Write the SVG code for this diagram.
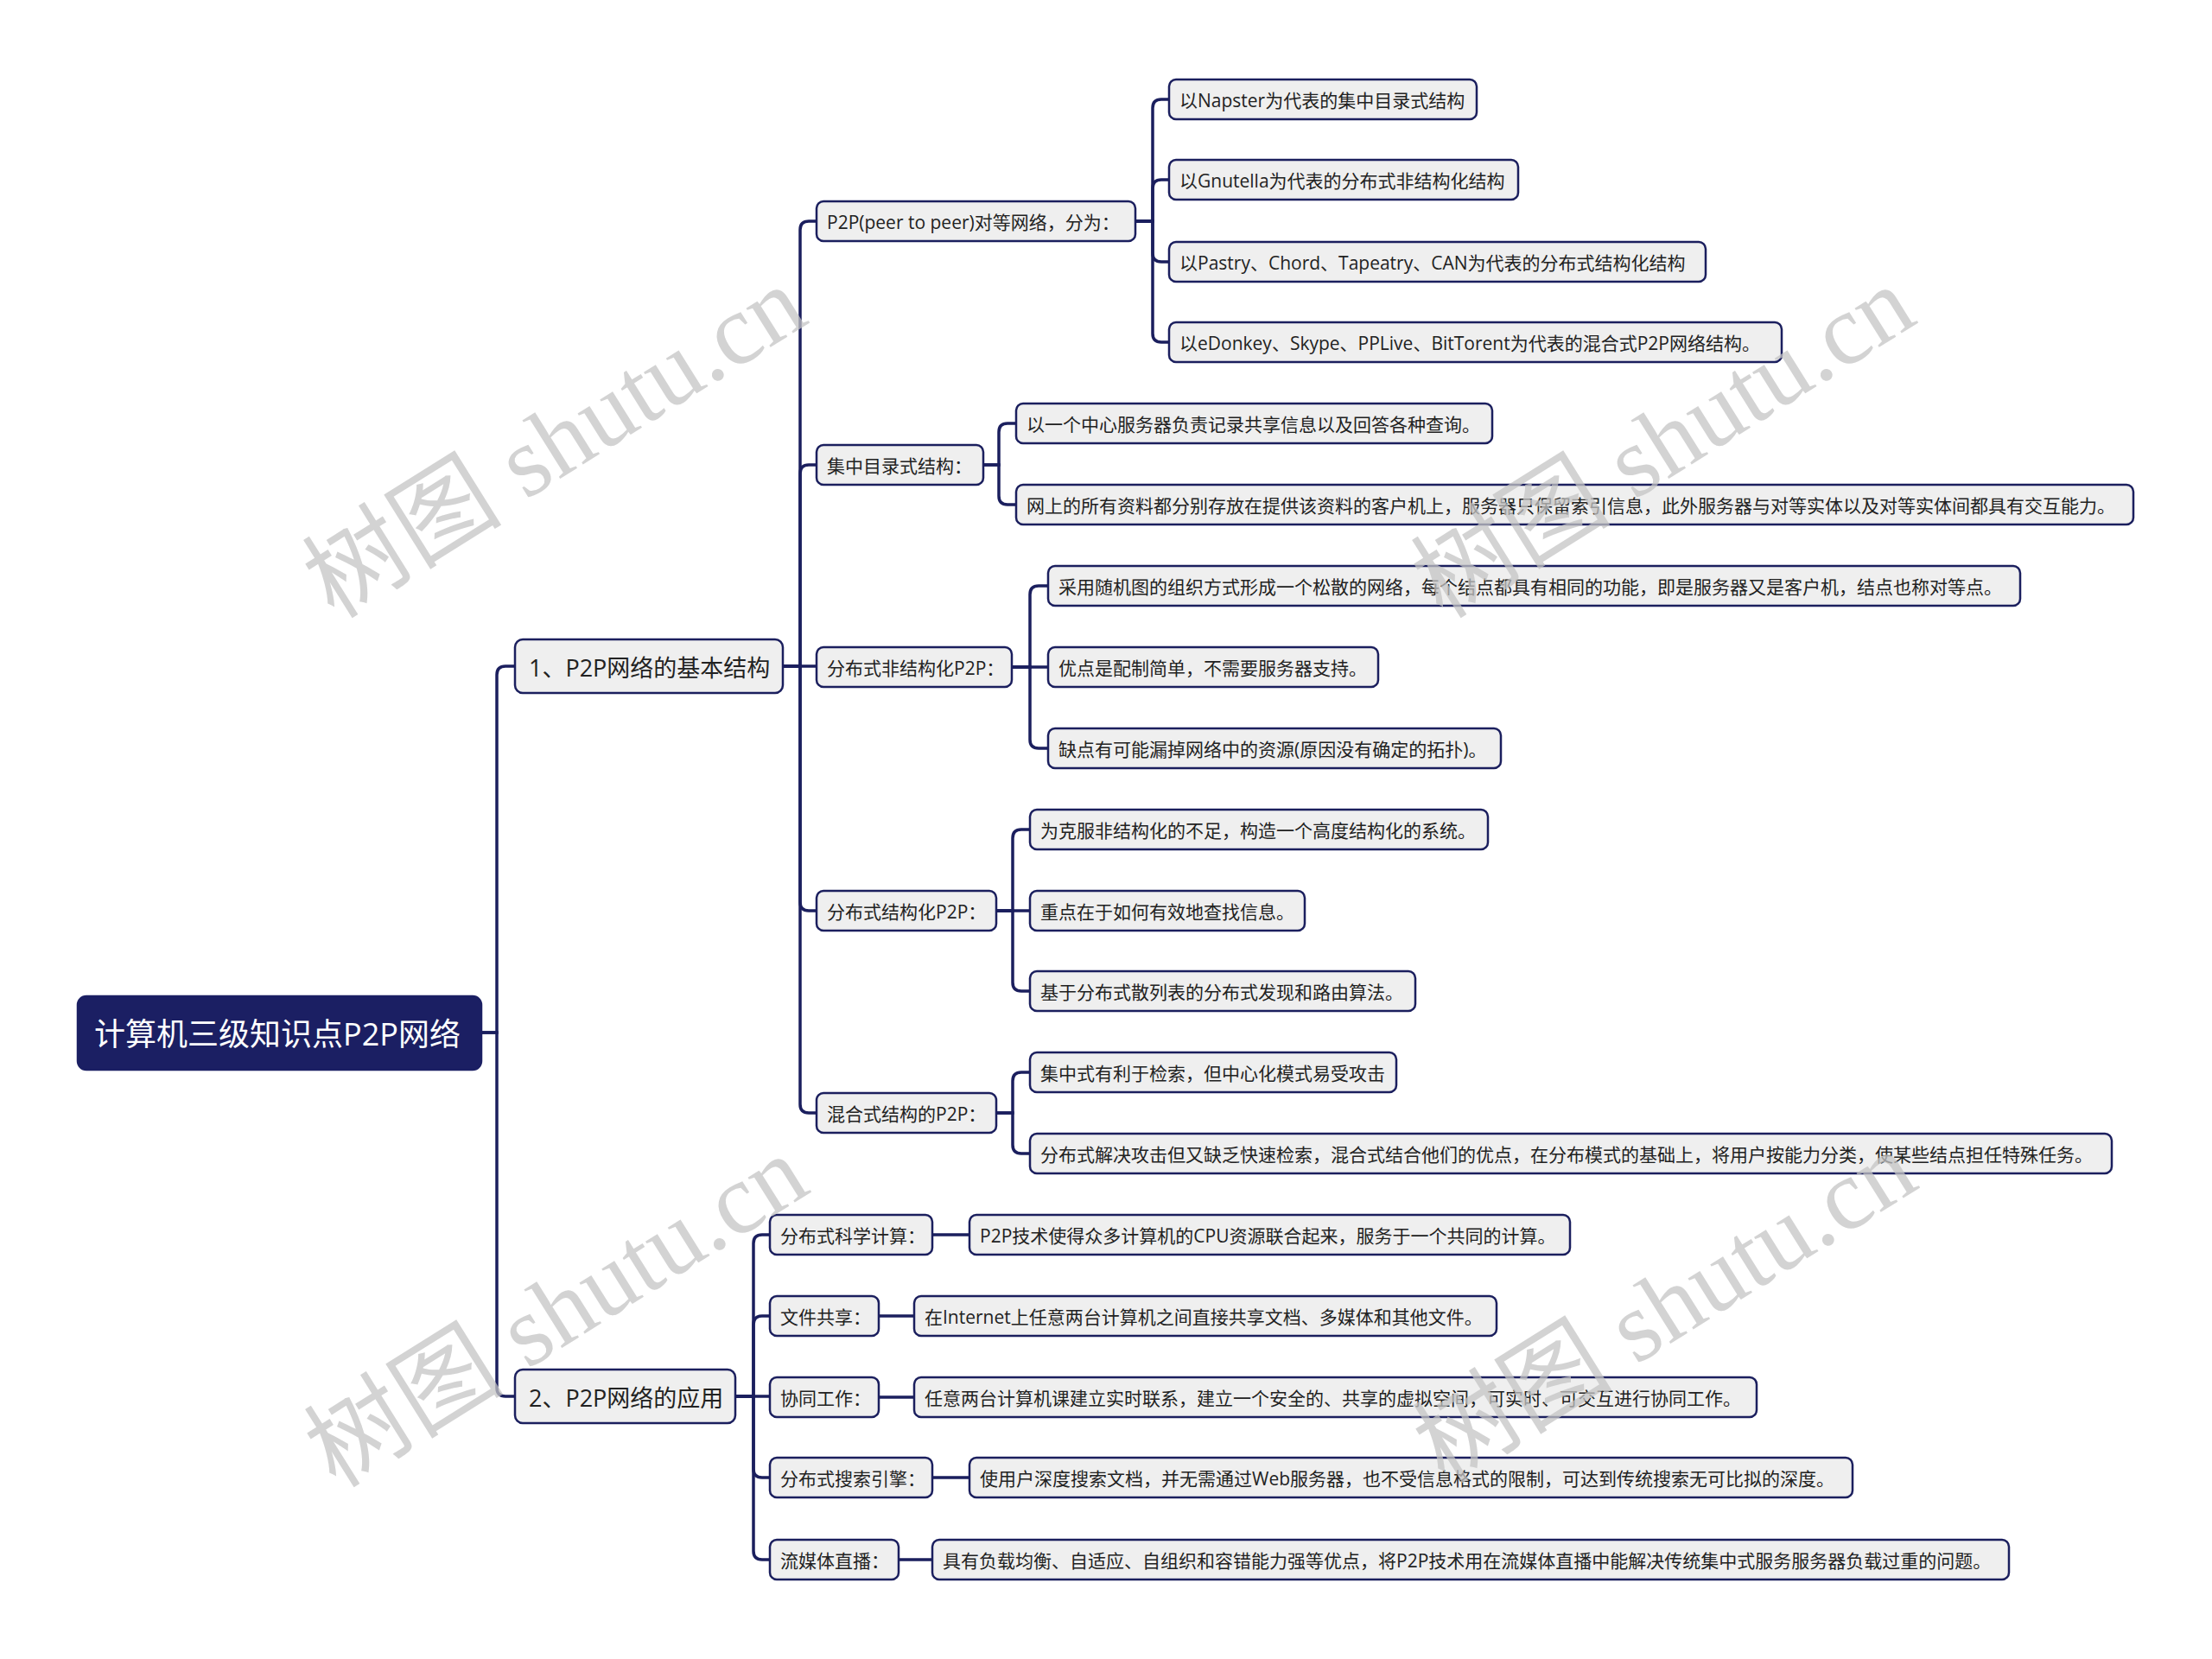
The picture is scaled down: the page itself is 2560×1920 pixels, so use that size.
<svg xmlns="http://www.w3.org/2000/svg" width="2560" height="1920" viewBox="0 0 2560 1920">
<style>
.bg{fill:#ffffff}
.wm{fill:#c4c4c4;fill-opacity:0.75;font-family:"Liberation Serif","Noto Sans CJK SC",serif;font-size:116px}
.n rect{fill:#efefef;stroke:#1b1f5e;stroke-width:2.5}
.n text{fill:#222;font-family:"Open Sans","Noto Sans CJK SC",sans-serif;font-size:21px;dominant-baseline:central}
.l1 text{font-size:27px}
.root rect{fill:#1b1f63;stroke:#1b1f63}
.root text{fill:#ffffff;font-size:36px}
.conn path{fill:none;stroke:#1b1f5e;stroke-width:3.5;stroke-linecap:round}
</style>
<rect class="bg" width="2560" height="1920"/>
<g id="connectors" class="conn">
<path d="M557,1195 H575 V781 Q575,771 585,771 H596"/>
<path d="M557,1195 H575 V1606 Q575,1616 585,1616 H596"/>
<path d="M906,771 H926 V266 Q926,256 936,256 H945"/>
<path d="M906,771 H926 V548 Q926,538 936,538 H945"/>
<path d="M906,771 H945"/>
<path d="M906,771 H926 V1044 Q926,1054 936,1054 H945"/>
<path d="M906,771 H926 V1278 Q926,1288 936,1288 H945"/>
<path d="M1314,256 H1334 V125 Q1334,115 1344,115 H1353"/>
<path d="M1314,256 H1334 V218 Q1334,208 1344,208 H1353"/>
<path d="M1314,256 H1334 V293 Q1334,303 1344,303 H1353"/>
<path d="M1314,256 H1334 V386 Q1334,396 1344,396 H1353"/>
<path d="M1138,538 H1156 V500 Q1156,490 1166,490 H1176"/>
<path d="M1138,538 H1156 V574 Q1156,584 1166,584 H1176"/>
<path d="M1171,772 H1192 V688 Q1192,678 1202,678 H1213"/>
<path d="M1171,772 H1213"/>
<path d="M1171,772 H1192 V856 Q1192,866 1202,866 H1213"/>
<path d="M1153,1054 H1172 V970 Q1172,960 1182,960 H1192"/>
<path d="M1153,1054 H1192"/>
<path d="M1153,1054 H1172 V1137 Q1172,1147 1182,1147 H1192"/>
<path d="M1153,1288 H1172 V1251 Q1172,1241 1182,1241 H1192"/>
<path d="M1153,1288 H1172 V1325 Q1172,1335 1182,1335 H1192"/>
<path d="M851,1616 H872 V1439 Q872,1429 882,1429 H891"/>
<path d="M851,1616 H872 V1533 Q872,1523 882,1523 H891"/>
<path d="M851,1616 H891"/>
<path d="M851,1616 H872 V1700 Q872,1710 882,1710 H891"/>
<path d="M851,1616 H872 V1795 Q872,1805 882,1805 H891"/>
<path d="M1079,1429 H1122"/>
<path d="M1017,1523 H1058"/>
<path d="M1017,1617 H1058"/>
<path d="M1079,1710 H1122"/>
<path d="M1040,1805 H1079"/>
</g>
<g id="root" class="n root"><rect x="90" y="1153" width="467" height="85" rx="10"/><text x="109" y="1196">计算机三级知识点P2P网络</text></g>
<g id="n1" class="n l1"><rect x="596" y="740" width="310" height="62" rx="9"/><text x="612" y="772">1、P2P网络的基本结构</text></g>
<g id="n2" class="n l1"><rect x="596" y="1585" width="255" height="62" rx="9"/><text x="612" y="1617">2、P2P网络的应用</text></g>
<g id="n1a" class="n"><rect x="945" y="233" width="369" height="46" rx="8"/><text x="957" y="257">P2P(peer to peer)对等网络，分为：</text></g>
<g id="n1b" class="n"><rect x="945" y="515" width="193" height="46" rx="8"/><text x="957" y="539">集中目录式结构：</text></g>
<g id="n1c" class="n"><rect x="945" y="749" width="226" height="46" rx="8"/><text x="957" y="773">分布式非结构化P2P：</text></g>
<g id="n1d" class="n"><rect x="945" y="1031" width="208" height="46" rx="8"/><text x="957" y="1055">分布式结构化P2P：</text></g>
<g id="n1e" class="n"><rect x="945" y="1265" width="208" height="46" rx="8"/><text x="957" y="1289">混合式结构的P2P：</text></g>
<g id="n1a1" class="n"><rect x="1353" y="92" width="356" height="46" rx="8"/><text x="1365" y="116">以Napster为代表的集中目录式结构</text></g>
<g id="n1a2" class="n"><rect x="1353" y="185" width="404" height="46" rx="8"/><text x="1365" y="209">以Gnutella为代表的分布式非结构化结构</text></g>
<g id="n1a3" class="n"><rect x="1353" y="280" width="621" height="46" rx="8"/><text x="1365" y="304">以Pastry、Chord、Tapeatry、CAN为代表的分布式结构化结构</text></g>
<g id="n1a4" class="n"><rect x="1353" y="373" width="709" height="46" rx="8"/><text x="1365" y="397">以eDonkey、Skype、PPLive、BitTorent为代表的混合式P2P网络结构。</text></g>
<g id="n1b1" class="n"><rect x="1176" y="467" width="551" height="46" rx="8"/><text x="1188" y="491">以一个中心服务器负责记录共享信息以及回答各种查询。</text></g>
<g id="n1b2" class="n"><rect x="1176" y="561" width="1293" height="46" rx="8"/><text x="1188" y="585">网上的所有资料都分别存放在提供该资料的客户机上，服务器只保留索引信息，此外服务器与对等实体以及对等实体间都具有交互能力。</text></g>
<g id="n1c1" class="n"><rect x="1213" y="655" width="1125" height="46" rx="8"/><text x="1225" y="679">采用随机图的组织方式形成一个松散的网络，每个结点都具有相同的功能，即是服务器又是客户机，结点也称对等点。</text></g>
<g id="n1c2" class="n"><rect x="1213" y="749" width="382" height="46" rx="8"/><text x="1225" y="773">优点是配制简单，不需要服务器支持。</text></g>
<g id="n1c3" class="n"><rect x="1213" y="843" width="524" height="46" rx="8"/><text x="1225" y="867">缺点有可能漏掉网络中的资源(原因没有确定的拓扑)。</text></g>
<g id="n1d1" class="n"><rect x="1192" y="937" width="530" height="46" rx="8"/><text x="1204" y="961">为克服非结构化的不足，构造一个高度结构化的系统。</text></g>
<g id="n1d2" class="n"><rect x="1192" y="1031" width="318" height="46" rx="8"/><text x="1204" y="1055">重点在于如何有效地查找信息。</text></g>
<g id="n1d3" class="n"><rect x="1192" y="1124" width="446" height="46" rx="8"/><text x="1204" y="1148">基于分布式散列表的分布式发现和路由算法。</text></g>
<g id="n1e1" class="n"><rect x="1192" y="1218" width="424" height="46" rx="8"/><text x="1204" y="1242">集中式有利于检索，但中心化模式易受攻击</text></g>
<g id="n1e2" class="n"><rect x="1192" y="1312" width="1252" height="46" rx="8"/><text x="1204" y="1336">分布式解决攻击但又缺乏快速检索，混合式结合他们的优点，在分布模式的基础上，将用户按能力分类，使某些结点担任特殊任务。</text></g>
<g id="n2a" class="n"><rect x="891" y="1406" width="188" height="46" rx="8"/><text x="903" y="1430">分布式科学计算：</text></g>
<g id="n2b" class="n"><rect x="891" y="1500" width="126" height="46" rx="8"/><text x="903" y="1524">文件共享：</text></g>
<g id="n2c" class="n"><rect x="891" y="1594" width="126" height="46" rx="8"/><text x="903" y="1618">协同工作：</text></g>
<g id="n2d" class="n"><rect x="891" y="1687" width="188" height="46" rx="8"/><text x="903" y="1711">分布式搜索引擎：</text></g>
<g id="n2e" class="n"><rect x="891" y="1782" width="149" height="46" rx="8"/><text x="903" y="1806">流媒体直播：</text></g>
<g id="n2a1" class="n"><rect x="1122" y="1406" width="695" height="46" rx="8"/><text x="1134" y="1430">P2P技术使得众多计算机的CPU资源联合起来，服务于一个共同的计算。</text></g>
<g id="n2b1" class="n"><rect x="1058" y="1500" width="674" height="46" rx="8"/><text x="1070" y="1524">在Internet上任意两台计算机之间直接共享文档、多媒体和其他文件。</text></g>
<g id="n2c1" class="n"><rect x="1058" y="1594" width="975" height="46" rx="8"/><text x="1070" y="1618">任意两台计算机课建立实时联系，建立一个安全的、共享的虚拟空间，可实时、可交互进行协同工作。</text></g>
<g id="n2d1" class="n"><rect x="1122" y="1687" width="1022" height="46" rx="8"/><text x="1134" y="1711">使用户深度搜索文档，并无需通过Web服务器，也不受信息格式的限制，可达到传统搜索无可比拟的深度。</text></g>
<g id="n2e1" class="n"><rect x="1079" y="1782" width="1246" height="46" rx="8"/><text x="1091" y="1806">具有负载均衡、自适应、自组织和容错能力强等优点，将P2P技术用在流媒体直播中能解决传统集中式服务服务器负载过重的问题。</text></g>
<g id="watermarks">
<text class="wm" transform="translate(642,512) rotate(-32)" text-anchor="middle" dominant-baseline="central">树图 shutu.cn</text>
<text class="wm" transform="translate(1925,512) rotate(-32)" text-anchor="middle" dominant-baseline="central">树图 shutu.cn</text>
<text class="wm" transform="translate(644,1518) rotate(-32)" text-anchor="middle" dominant-baseline="central">树图 shutu.cn</text>
<text class="wm" transform="translate(1927,1513) rotate(-32)" text-anchor="middle" dominant-baseline="central">树图 shutu.cn</text>
</g>
</svg>
